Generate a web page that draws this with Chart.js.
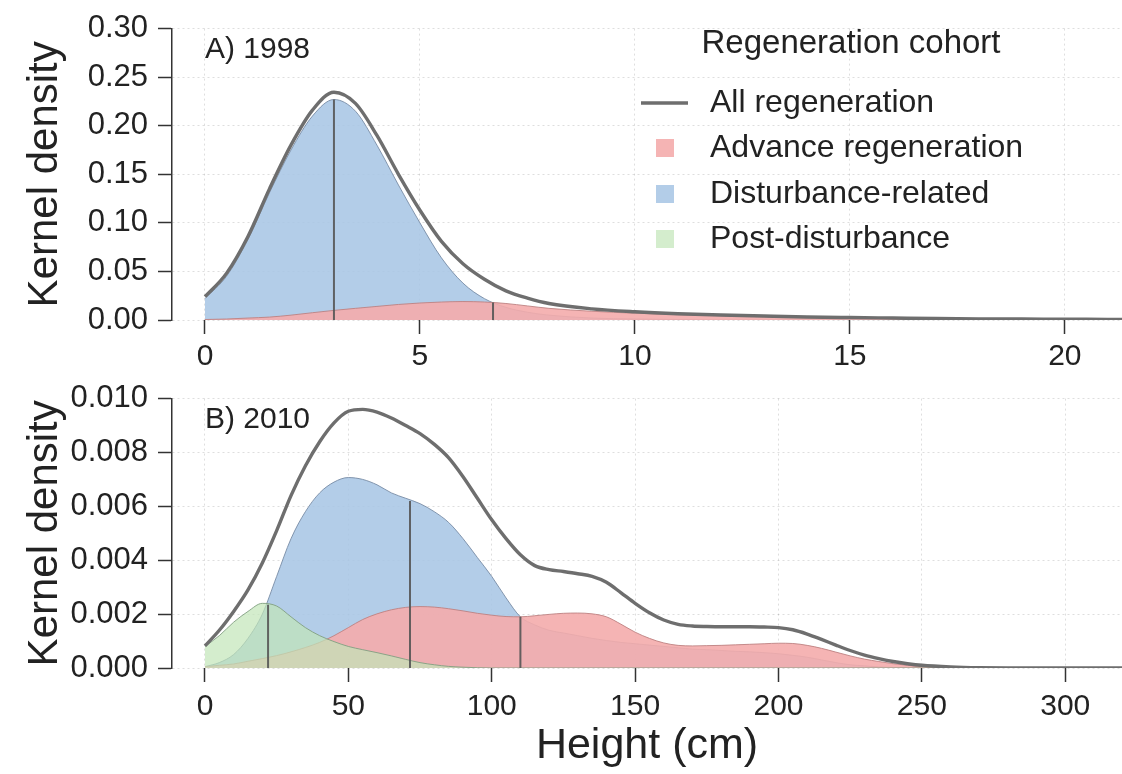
<!DOCTYPE html>
<html>
<head>
<meta charset="utf-8">
<script src="https://cdn.jsdelivr.net/npm/chart.js@4.4.1/dist/chart.umd.min.js"></script>
<style>
  html, body { margin: 0; padding: 0; background: #fff; }
  #wrap { position: relative; width: 1122px; height: 774px; overflow: hidden; }
  canvas { position: absolute; left: 0; }
  #cA { top: 0; }
  #cB { top: 370px; }
</style>
</head>
<body>
<div id="wrap">
  <canvas id="cA" width="1122" height="370"></canvas>
  <canvas id="cB" width="1122" height="404"></canvas>
</div>
<script>
// ---- Panel A: 1998 (height in cm) ----
const heightsA = [0, 0.5, 1, 1.5, 2, 2.5, 3, 3.5, 4, 4.5, 5, 5.5, 6, 6.5, 7, 7.5, 8, 9, 10, 11, 12, 13, 14, 15, 16, 17, 18, 19, 20, 21, 21.5];
const totalA = [0.024, 0.048, 0.086, 0.135, 0.180, 0.216, 0.2345, 0.223, 0.190, 0.150, 0.113, 0.081, 0.058, 0.042, 0.030, 0.0225, 0.017, 0.0115, 0.0085, 0.0065, 0.0052, 0.0041, 0.0031, 0.0025, 0.002, 0.0015, 0.0012, 0.001, 0.0008, 0.0006, 0.0005];
const advanceA = [0.0005, 0.001, 0.002, 0.003, 0.005, 0.0075, 0.0099, 0.012, 0.014, 0.016, 0.0175, 0.0185, 0.019, 0.0185, 0.017, 0.0145, 0.012, 0.009, 0.007, 0.0055, 0.0045, 0.0035, 0.0027, 0.002, 0.0016, 0.0012, 0.001, 0.0008, 0.0006, 0.0005, 0.0004];
const disturbanceA = [0.022, 0.045, 0.083, 0.131, 0.175, 0.210, 0.227, 0.215, 0.180, 0.139, 0.100, 0.064, 0.038, 0.022, 0.013, 0.008, 0.005, 0.002, 0.001, 0.0005, 0, 0, 0, 0, 0, 0, 0, 0, 0, 0, 0];
// medians: [advance, disturbance] and the curve height where the line stops
const mediansA = [6.7, 3.0];
const medianTopsA = [0.018, 0.227];
const xTicksA = [0, 5, 10, 15, 20];
const yTicksA = [0, 0.05, 0.10, 0.15, 0.20, 0.25, 0.30];

// ---- Panel B: 2010 ----
const heightsB = [0, 5, 10, 15, 20, 25, 30, 35, 40, 45, 50, 55, 60, 65, 70, 75, 80, 85, 90, 95, 100, 105, 110, 115, 120, 125, 130, 135, 140, 145, 150, 155, 160, 165, 170, 175, 180, 185, 190, 195, 200, 205, 210, 215, 220, 225, 230, 235, 240, 245, 250, 260, 270, 280, 300, 320];
const totalB = [0.00082, 0.0014, 0.0021, 0.0029, 0.0039, 0.0051, 0.0064, 0.0075, 0.0084, 0.0091, 0.00953, 0.0096, 0.0095, 0.00928, 0.0090, 0.0087, 0.0083, 0.0078, 0.0071, 0.0063, 0.0055, 0.0048, 0.0042, 0.0038, 0.00365, 0.00358, 0.0035, 0.0034, 0.00318, 0.0028, 0.0024, 0.00205, 0.00178, 0.00162, 0.00156, 0.00154, 0.00153, 0.00153, 0.00153, 0.00152, 0.0015, 0.00142, 0.00126, 0.00106, 0.00085, 0.00065, 0.00048, 0.00035, 0.00024, 0.00016, 0.0001, 0.00004, 0.00001, 0, 0, 0];
const advanceB = [0.00005, 0.0001, 0.00015, 0.00025, 0.00035, 0.00046, 0.0006, 0.00076, 0.00095, 0.0012, 0.0015, 0.0018, 0.00201, 0.00216, 0.00225, 0.00228, 0.00226, 0.0022, 0.00212, 0.00203, 0.00196, 0.00191, 0.0019, 0.00194, 0.00199, 0.00203, 0.00204, 0.00201, 0.0019, 0.00163, 0.00133, 0.0011, 0.00093, 0.00084, 0.00082, 0.00083, 0.00084, 0.00086, 0.00088, 0.0009, 0.00092, 0.00091, 0.00084, 0.00073, 0.00059, 0.00045, 0.00033, 0.00024, 0.00016, 0.0001, 0.00005, 0.00001, 0, 0, 0, 0];
const disturbanceB = [0.00005, 0.0002, 0.0005, 0.0011, 0.0020, 0.0034, 0.0048, 0.0058, 0.0065, 0.0069, 0.00707, 0.0070, 0.0068, 0.0065, 0.0063, 0.0061, 0.0058, 0.0054, 0.0048, 0.0041, 0.0034, 0.0026, 0.0019, 0.0016, 0.0014, 0.0013, 0.0012, 0.0011, 0.00102, 0.00095, 0.0009, 0.00085, 0.0008, 0.00075, 0.0007, 0.00068, 0.00065, 0.00062, 0.0006, 0.00057, 0.00053, 0.00047, 0.0004, 0.0003, 0.0002, 0.00012, 0.00008, 0.00004, 0.00002, 0.00001, 0, 0, 0, 0, 0, 0];
const postB = [0.0008, 0.0012, 0.0017, 0.0021, 0.0024, 0.0023, 0.0019, 0.0015, 0.0012, 0.00098, 0.0008, 0.00068, 0.00057, 0.00045, 0.00032, 0.0002, 0.00012, 0.00006, 0.00003, 0.00001, 0, 0, 0, 0, 0, 0, 0, 0, 0, 0, 0, 0, 0, 0, 0, 0, 0, 0, 0, 0, 0, 0, 0, 0, 0, 0, 0, 0, 0, 0, 0, 0, 0, 0, 0, 0];
// medians: [advance, disturbance, post]
const mediansB = [110, 71.5, 22];
const medianTopsB = [0.0019, 0.0062, 0.00235];
const xTicksB = [0, 50, 100, 150, 200, 250, 300];
const yTicksB = [0, 0.002, 0.004, 0.006, 0.008, 0.010];

const legendLabels = ['All regeneration', 'Advance regeneration', 'Disturbance-related', 'Post-disturbance'];

const FONT = '"Liberation Sans", Arial, Helvetica, sans-serif';
Chart.defaults.font.family = FONT;
Chart.defaults.color = '#222';

const TOTAL_COLOR = '#6e6e6e';
const FILL = {
  advance: 'rgba(244,172,172,0.9)',
  disturbance: 'rgba(168,198,229,0.88)',
  post: 'rgba(194,229,184,0.7)'
};
const EDGE = {
  advance: 'rgba(190,130,130,0.9)',
  disturbance: 'rgba(120,140,165,0.9)',
  post: 'rgba(130,160,130,0.9)'
};

function pts(xs, ys) {
  return xs.map((x, i) => ({ x: x, y: ys[i] }));
}

function area(label, xs, ys, key, order) {
  return {
    label: label,
    data: pts(xs, ys),
    fill: 'origin',
    backgroundColor: FILL[key],
    borderColor: EDGE[key],
    borderWidth: 1,
    pointRadius: 0,
    cubicInterpolationMode: 'monotone',
    order: order
  };
}

function medianLine(x, top) {
  return {
    label: 'median',
    data: [{ x: x, y: 0 }, { x: x, y: top }],
    fill: false,
    borderColor: 'rgba(85,85,85,0.9)',
    borderWidth: 2,
    pointRadius: 0,
    tension: 0,
    order: 1
  };
}

function totalLine(xs, ys) {
  return {
    label: 'All regeneration',
    data: pts(xs, ys),
    fill: false,
    borderColor: TOTAL_COLOR,
    borderWidth: 3.4,
    pointRadius: 0,
    cubicInterpolationMode: 'monotone',
    order: 0
  };
}

function axes(xMin, xMax, xTicks, yMax, yTicks, yDigits, xAxisHeight, xTitle, xLabelPad) {
  return {
    x: {
      type: 'linear',
      min: xMin,
      max: xMax,
      afterBuildTicks: s => { s.ticks = xTicks.map(v => ({ value: v })); },
      afterFit: s => { s.height = xAxisHeight; },
      border: { display: false, dash: [2, 3] },
      grid: { color: 'rgba(0,0,0,0.13)', lineWidth: 1, tickColor: '#333', tickLength: 14, tickWidth: 1.5 },
      ticks: { font: { size: 30 }, color: '#222', padding: xLabelPad, maxRotation: 0, autoSkip: false },
      title: xTitle ? { display: true, text: xTitle, font: { size: 43 }, color: '#222', padding: { top: 0, bottom: 2 } } : { display: false }
    },
    y: {
      type: 'linear',
      min: 0,
      max: yMax,
      afterBuildTicks: s => { s.ticks = yTicks.map(v => ({ value: v })); },
      afterFit: s => { s.width = 172; },
      border: { display: true, color: '#333', width: 1.5, dash: [2, 3] },
      grid: { color: 'rgba(0,0,0,0.13)', lineWidth: 1, tickColor: '#333', tickLength: 14, tickWidth: 1.5 },
      ticks: { font: { size: 31 }, color: '#222', padding: 10, callback: v => v.toFixed(yDigits) },
      title: { display: true, text: 'Kernel density', font: { size: 42 }, color: '#222', padding: { top: 20, bottom: 0 } }
    }
  };
}

function panelLabel(text) {
  return {
    id: 'panelLabel',
    afterDraw(chart) {
      const ctx = chart.ctx;
      const xs = chart.scales.x;
      ctx.save();
      ctx.font = '30px ' + FONT;
      ctx.fillStyle = '#222';
      ctx.textAlign = 'left';
      ctx.textBaseline = 'middle';
      ctx.fillText(text, xs.getPixelForValue(0), chart.chartArea.top + 21);
      ctx.restore();
    }
  };
}

const legendPlugin = {
  id: 'cohortLegend',
  afterDraw(chart) {
    const ctx = chart.ctx;
    ctx.save();
    ctx.fillStyle = '#222';
    ctx.font = '33px ' + FONT;
    ctx.textBaseline = 'middle';
    ctx.textAlign = 'center';
    ctx.fillText('Regeneration cohort', 851, 44);
    ctx.font = '32px ' + FONT;
    ctx.textAlign = 'left';
    const rows = [103, 148, 194, 239];
    const swatches = [null, FILL.advance, FILL.disturbance, FILL.post];
    rows.forEach((y, i) => {
      if (i === 0) {
        ctx.strokeStyle = TOTAL_COLOR;
        ctx.lineWidth = 3.4;
        ctx.beginPath();
        ctx.moveTo(641, y);
        ctx.lineTo(688, y);
        ctx.stroke();
      } else {
        ctx.fillStyle = swatches[i];
        ctx.fillRect(656, y - 9, 18, 18);
      }
      ctx.fillStyle = '#222';
      ctx.fillText(legendLabels[i], 710, y);
    });
    ctx.restore();
  }
};

new Chart(document.getElementById('cA'), {
  type: 'line',
  data: {
    datasets: [
      totalLine(heightsA, totalA),
      medianLine(mediansA[0], medianTopsA[0]),
      medianLine(mediansA[1], medianTopsA[1]),
      area('Advance regeneration', heightsA, advanceA, 'advance', 3),
      area('Disturbance-related', heightsA, disturbanceA, 'disturbance', 4)
    ]
  },
  options: {
    responsive: false,
    animation: false,
    devicePixelRatio: 1,
    layout: { padding: { top: 18, right: 0, bottom: 0, left: 0 } },
    plugins: { legend: { display: false }, tooltip: { enabled: false } },
    scales: axes(-0.767, 21.33, xTicksA, 0.30, yTicksA, 2, 50, null, 5)
  },
  plugins: [panelLabel('A) 1998'), legendPlugin]
});

new Chart(document.getElementById('cB'), {
  type: 'line',
  data: {
    datasets: [
      totalLine(heightsB, totalB),
      medianLine(mediansB[0], medianTopsB[0]),
      medianLine(mediansB[1], medianTopsB[1]),
      medianLine(mediansB[2], medianTopsB[2]),
      area('Post-disturbance', heightsB, postB, 'post', 2),
      area('Advance regeneration', heightsB, advanceB, 'advance', 3),
      area('Disturbance-related', heightsB, disturbanceB, 'disturbance', 4)
    ]
  },
  options: {
    responsive: false,
    animation: false,
    devicePixelRatio: 1,
    layout: { padding: { top: 19, right: 0, bottom: 0, left: 0 } },
    plugins: { legend: { display: false }, tooltip: { enabled: false } },
    scales: axes(-11.5, 319.8, xTicksB, 0.010, yTicksB, 3, 106, 'Height (cm)', 7)
  },
  plugins: [panelLabel('B) 2010')]
});
</script>
</body>
</html>
